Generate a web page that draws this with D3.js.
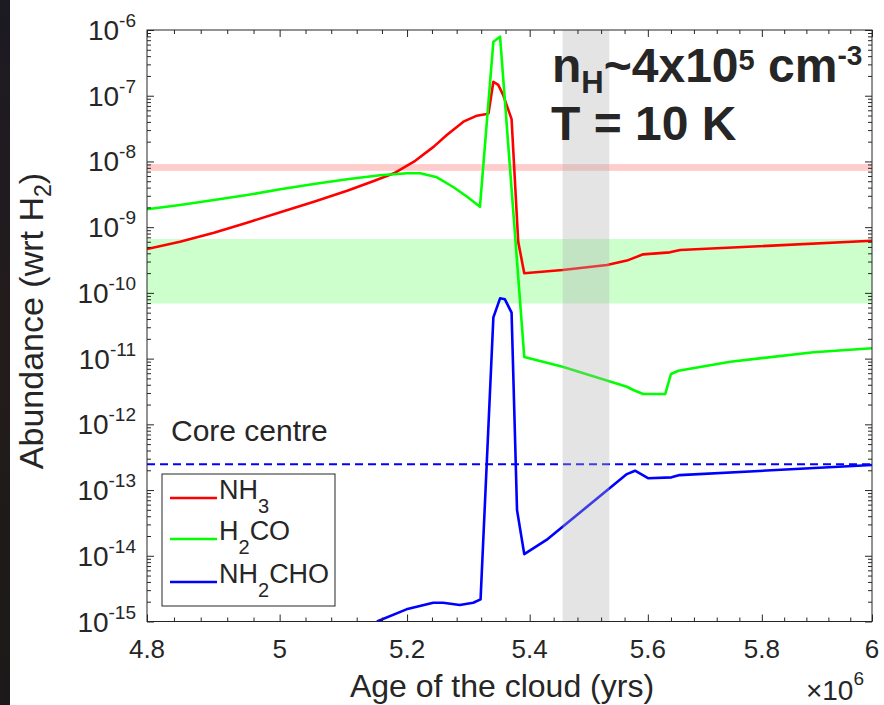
<!DOCTYPE html>
<html>
<head>
<meta charset="utf-8">
<script src="https://cdn.jsdelivr.net/npm/d3@7/dist/d3.min.js"></script>
<style>
  body { margin: 0; background: #ffffff; }
  svg { display: block; }
  text { font-family: "Liberation Sans", Arial, Helvetica, sans-serif; fill: #262626; }
</style>
</head>
<body>
<svg id="chart" width="884" height="705"></svg>
<script>
// Cloud age in units of 10^6 yr; abundances relative to H2.
const nh3Age   = [4.800, 4.849, 4.900, 4.950, 5.001, 5.053, 5.105, 5.147, 5.179, 5.211, 5.243, 5.264, 5.291, 5.313, 5.329, 5.332,
                  5.340, 5.348, 5.356, 5.370, 5.381, 5.391, 5.455, 5.530, 5.564, 5.592, 5.638, 5.656, 6.000];
const nh3Abund = [4.66e-10, 6.01e-10, 8.24e-10, 1.17e-9, 1.68e-9, 2.44e-9, 3.59e-9, 5.04e-9, 6.61e-9, 9.91e-9, 1.68e-8, 2.52e-8, 4.03e-8, 4.97e-8, 5.27e-8, 5.4e-8,
                  1.63e-7, 1.46e-7, 1.03e-7, 4.4e-8, 6.0e-10, 1.99e-10, 2.23e-10, 2.65e-10, 3.1e-10, 3.86e-10, 4.14e-10, 4.49e-10, 6.2e-10];

const h2coAge   = [4.800, 4.849, 4.900, 4.950, 5.001, 5.053, 5.105, 5.157, 5.200, 5.221, 5.248, 5.275, 5.297, 5.318, 5.340, 5.351,
                   5.391, 5.455, 5.564, 5.575, 5.592, 5.630, 5.640, 5.653, 5.744, 5.893, 6.000];
const h2coAbund = [1.87e-9, 2.17e-9, 2.59e-9, 3.08e-9, 3.77e-9, 4.54e-9, 5.35e-9, 6.15e-9, 6.61e-9, 6.61e-9, 5.74e-9, 4.05e-9, 2.9e-9, 2.05e-9, 6.64e-7, 7.9e-7,
                   1.06e-11, 7.5e-12, 3.73e-12, 3.33e-12, 2.89e-12, 2.89e-12, 5.83e-12, 6.55e-12, 8.98e-12, 1.25e-11, 1.44e-11];

const nh2choAge   = [5.152, 5.199, 5.242, 5.258, 5.285, 5.307, 5.319, 5.340, 5.351, 5.359, 5.370, 5.379,
                     5.391, 5.428, 5.564, 5.578, 5.601, 5.641, 5.655, 6.000];
const nh2choAbund = [1.0e-15, 1.53e-15, 1.93e-15, 1.93e-15, 1.78e-15, 1.93e-15, 2.17e-15, 4.25e-11, 8.26e-11, 7.98e-11, 5.0e-11, 4.97e-14,
                     1.06e-14, 1.74e-14, 1.75e-13, 1.97e-13, 1.51e-13, 1.56e-13, 1.69e-13, 2.4e-13];

// Observed ranges and reference levels
const nh3ObsRange  = [7.2e-9, 9.1e-9];
const h2coObsRange = [6.9e-11, 6.6e-10];
const coreCentreLevel = 2.46e-13;
const ageWindow = [5.455, 5.534];

// Axis ticks
const xTickValues = [4.8, 5.0, 5.2, 5.4, 5.6, 5.8, 6.0];
const xTickLabels = ["4.8", "5", "5.2", "5.4", "5.6", "5.8", "6"];
const xMinorTicks = d3.range(4.84, 6.0, 0.04).map(v => +v.toFixed(2)).filter(v => Math.abs(v * 5 - Math.round(v * 5)) > 1e-6);
const yTickExponents = [-6, -7, -8, -9, -10, -11, -12, -13, -14, -15];

const seriesNames  = ["NH3", "H2CO", "NH2CHO"];
const seriesColors = ["#ff0000", "#00ff00", "#0000ff"];

const svg = d3.select("#chart");
const W = 884, H = 705;
const plot = { left: 147, right: 872, top: 30, bottom: 621.5 };

const x = d3.scaleLog().domain([4.8, 6.0]).range([plot.left, plot.right]);
const y = d3.scaleLog().domain([1e-15, 1e-6]).range([plot.bottom, plot.top]);

// page background with a dark strip on the left edge
svg.append("rect").attr("width", W).attr("height", H).attr("fill", "#ffffff");
const strip = svg.append("defs").append("linearGradient").attr("id", "strip").attr("x1", 0).attr("x2", 0).attr("y1", 0).attr("y2", 1);
strip.append("stop").attr("offset", "0").attr("stop-color", "#1c1a22");
strip.append("stop").attr("offset", "0.5").attr("stop-color", "#231c1c");
strip.append("stop").attr("offset", "1").attr("stop-color", "#1b1919");
svg.append("rect").attr("x", 0).attr("y", 0).attr("width", 10).attr("height", H).attr("fill", "url(#strip)");

svg.append("defs").append("clipPath").attr("id", "plotClip")
  .append("rect").attr("x", plot.left).attr("y", plot.top)
  .attr("width", plot.right - plot.left).attr("height", plot.bottom - plot.top);

const g = svg.append("g").attr("clip-path", "url(#plotClip)");

// observed abundance bands
g.append("rect")
  .attr("x", plot.left).attr("width", plot.right - plot.left)
  .attr("y", y(nh3ObsRange[1])).attr("height", y(nh3ObsRange[0]) - y(nh3ObsRange[1]))
  .attr("fill", "#ffcccc");
g.append("rect")
  .attr("x", plot.left).attr("width", plot.right - plot.left)
  .attr("y", y(h2coObsRange[1])).attr("height", y(h2coObsRange[0]) - y(h2coObsRange[1]))
  .attr("fill", "#ccffcc");

// core centre reference level
g.append("line")
  .attr("x1", plot.left).attr("x2", plot.right)
  .attr("y1", y(coreCentreLevel)).attr("y2", y(coreCentreLevel))
  .attr("stroke", "#0000ff").attr("stroke-width", 2).attr("stroke-dasharray", "8,5");

const line = d3.line().x(d => x(d[0])).y(d => y(d[1]));
const series = [
  d3.zip(nh3Age, nh3Abund),
  d3.zip(h2coAge, h2coAbund),
  d3.zip(nh2choAge, nh2choAbund)
];
series.forEach((pts, i) => {
  g.append("path").datum(pts)
    .attr("d", line)
    .attr("fill", "none")
    .attr("stroke", seriesColors[i])
    .attr("stroke-width", 2.6)
    .attr("stroke-linejoin", "round");
});

// highlighted age window
g.append("rect")
  .attr("x", x(ageWindow[0])).attr("width", x(ageWindow[1]) - x(ageWindow[0]))
  .attr("y", plot.top).attr("height", plot.bottom - plot.top)
  .attr("fill", "#b3b3b3").attr("fill-opacity", 0.35);

// axes: ticks inward on all four sides
const axisColor = "#262626";
function styleAxis(sel) {
  sel.select(".domain").remove();
  sel.selectAll(".tick line").attr("stroke", axisColor).attr("stroke-width", 1);
  sel.selectAll(".tick text").remove();
}
const xMajorB = d3.axisBottom(x).tickValues(xTickValues).tickSize(-7).tickFormat("");
const xMinorB = d3.axisBottom(x).tickValues(xMinorTicks).tickSize(-4).tickFormat("");
const xMajorT = d3.axisTop(x).tickValues(xTickValues).tickSize(-7).tickFormat("");
const xMinorT = d3.axisTop(x).tickValues(xMinorTicks).tickSize(-4).tickFormat("");
svg.append("g").attr("transform", `translate(0,${plot.bottom})`).call(xMajorB).call(styleAxis);
svg.append("g").attr("transform", `translate(0,${plot.bottom})`).call(xMinorB).call(styleAxis);
svg.append("g").attr("transform", `translate(0,${plot.top})`).call(xMajorT).call(styleAxis);
svg.append("g").attr("transform", `translate(0,${plot.top})`).call(xMinorT).call(styleAxis);

const yMajorVals = yTickExponents.map(e => Math.pow(10, e));
const yMinorVals = [];
yTickExponents.slice(0, -1).forEach(e => {
  for (let k = 2; k <= 9; k++) yMinorVals.push(k * Math.pow(10, e - 1));
});
svg.append("g").attr("transform", `translate(${plot.left},0)`).call(d3.axisLeft(y).tickValues(yMajorVals).tickSize(-7).tickFormat("")).call(styleAxis);
svg.append("g").attr("transform", `translate(${plot.left},0)`).call(d3.axisLeft(y).tickValues(yMinorVals).tickSize(-4).tickFormat("")).call(styleAxis);
svg.append("g").attr("transform", `translate(${plot.right},0)`).call(d3.axisRight(y).tickValues(yMajorVals).tickSize(-7).tickFormat("")).call(styleAxis);
svg.append("g").attr("transform", `translate(${plot.right},0)`).call(d3.axisRight(y).tickValues(yMinorVals).tickSize(-4).tickFormat("")).call(styleAxis);

// plot box
svg.append("rect")
  .attr("x", plot.left).attr("y", plot.top)
  .attr("width", plot.right - plot.left).attr("height", plot.bottom - plot.top)
  .attr("fill", "none").attr("stroke", axisColor).attr("stroke-width", 1);

// x tick labels
svg.append("g").selectAll("text").data(xTickValues).join("text")
  .attr("x", d => x(d)).attr("y", 658)
  .attr("text-anchor", "middle").attr("font-size", 26)
  .text((d, i) => xTickLabels[i]);

// y tick labels as powers of ten
const yLab = svg.append("g").selectAll("text").data(yTickExponents).join("text")
  .attr("x", 136).attr("y", e => y(Math.pow(10, e)) + 10)
  .attr("text-anchor", "end").attr("font-size", 28);
yLab.append("tspan").text("10");
yLab.append("tspan").attr("font-size", 19).attr("dy", -13).text(e => String(e));

// axis titles
svg.append("text").attr("x", 502).attr("y", 697).attr("text-anchor", "middle").attr("font-size", 32)
  .text("Age of the cloud (yrs)");
const mult = svg.append("text").attr("x", 864).attr("y", 700).attr("text-anchor", "end").attr("font-size", 28);
mult.append("tspan").text("\u00d710");
mult.append("tspan").attr("font-size", 19).attr("dy", -15).text("6");

const yTitle = svg.append("text")
  .attr("transform", "translate(43,321) rotate(-90)")
  .attr("text-anchor", "middle").attr("font-size", 34);
yTitle.append("tspan").text("Abundance (wrt H");
yTitle.append("tspan").attr("font-size", 23).attr("dy", 8).text("2");
yTitle.append("tspan").attr("dy", -8).text(")");

// core centre label
svg.append("text").attr("x", 171).attr("y", 441).attr("font-size", 30).attr("fill", "#000").text("Core centre");

// legend
const legend = svg.append("g");
legend.append("rect").attr("x", 162).attr("y", 474).attr("width", 173).attr("height", 132)
  .attr("fill", "#ffffff").attr("stroke", axisColor).attr("stroke-width", 1);
const legendRows = [498, 539, 582];
const legendParts = [["NH", "3", ""], ["H", "2", "CO"], ["NH", "2", "CHO"]];
seriesNames.forEach((name, i) => {
  const ly = legendRows[i];
  legend.append("line").attr("x1", 170).attr("x2", 217).attr("y1", ly).attr("y2", ly)
    .attr("stroke", seriesColors[i]).attr("stroke-width", 2.6);
  const t = legend.append("text").attr("x", 219).attr("y", ly + 1).attr("font-size", 27).attr("fill", "#000");
  t.append("tspan").text(legendParts[i][0]);
  t.append("tspan").attr("font-size", 20).attr("dy", 14).text(legendParts[i][1]);
  if (legendParts[i][2]) t.append("tspan").attr("dy", -14).text(legendParts[i][2]);
});

// physical conditions
const ann = svg.append("g").attr("font-weight", "bold");
const a1 = ann.append("text").attr("x", 552).attr("y", 82).attr("font-size", 48).attr("fill", "#000");
a1.append("tspan").text("n");
a1.append("tspan").attr("font-size", 31).attr("dy", 11).text("H");
a1.append("tspan").attr("dy", -11).text("~4x10");
a1.append("tspan").attr("font-size", 29).attr("dy", -12).text("5");
a1.append("tspan").attr("dy", 12).text(" cm");
a1.append("tspan").attr("font-size", 28).attr("dy", -17).text("-3");
ann.append("text").attr("x", 551).attr("y", 140).attr("font-size", 48).attr("fill", "#000").text("T = 10 K");
</script>
</body>
</html>
